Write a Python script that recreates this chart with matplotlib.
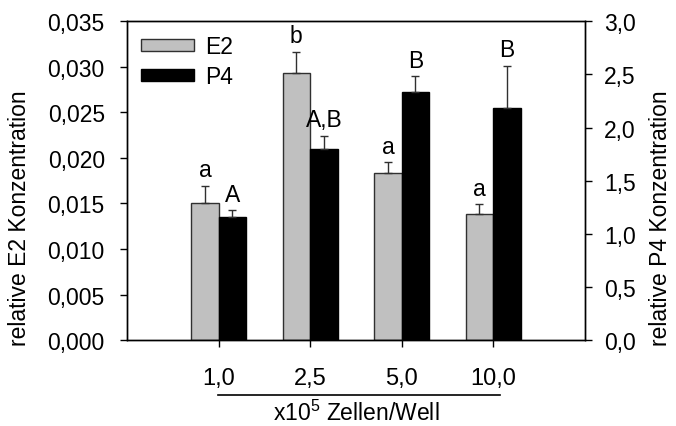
import numpy as np
import matplotlib.pyplot as plt
from matplotlib.patches import Patch

plt.rcParams['font.family'] = ['Liberation Sans', 'DejaVu Sans']
plt.rcParams['mathtext.fontset'] = 'custom'
plt.rcParams['mathtext.rm'] = 'Liberation Sans'
plt.rcParams['mathtext.it'] = 'Liberation Sans'

# data
cells = ['1,0', '2,5', '5,0', '10,0']
e2 = [0.0151, 0.0293, 0.0183, 0.0138]
e2_err = [0.0018, 0.0023, 0.0012, 0.0011]
p4 = [1.16, 1.80, 2.33, 2.18]
p4_err = [0.06, 0.12, 0.15, 0.40]
e2_letters = ['a', 'b', 'a', 'a']
p4_letters = ['A', 'A,B', 'B', 'B']

x = np.arange(len(cells))
w = 0.3
grey = '#c0c0c0'
edge = '#303030'
fs = 16.5

fig = plt.figure(figsize=(6.76, 4.27), dpi=100)
ax = fig.add_subplot(111)
fig.subplots_adjust(left=0.188, right=0.865, top=0.948, bottom=0.201)
ax2 = ax.twinx()

ax.bar(x - w / 2, e2, w, color=grey, edgecolor=edge, linewidth=1.0, zorder=2)
ax.errorbar(x - w / 2, e2, yerr=[np.zeros(4), e2_err], fmt='none',
            ecolor=edge, elinewidth=1.0, capsize=3, capthick=1.0, zorder=3)
ax2.bar(x + w / 2, p4, w, color='black', edgecolor='black', linewidth=1.0, zorder=2)
ax2.errorbar(x + w / 2, p4, yerr=[np.zeros(4), p4_err], fmt='none',
             ecolor=edge, elinewidth=1.0, capsize=3, capthick=1.0, zorder=3)

for i in range(len(cells)):
    ax.annotate(e2_letters[i], (x[i] - w / 2, e2[i] + e2_err[i]), xytext=(0, 3.5),
                textcoords='offset points', ha='center', va='bottom', fontsize=fs)
    ax2.annotate(p4_letters[i], (x[i] + w / 2, p4[i] + p4_err[i]), xytext=(0, 3.5),
                 textcoords='offset points', ha='center', va='bottom', fontsize=fs)

ax.set_xlim(-1, 4)
ax.set_ylim(0, 0.035)
ax2.set_ylim(0, 3.0)
ax.set_yticks(np.arange(0, 0.0351, 0.005))
ax.set_yticklabels([f'{v:.3f}'.replace('.', ',') for v in np.arange(0, 0.0351, 0.005)])
ax2.set_yticks(np.arange(0, 3.01, 0.5))
ax2.set_yticklabels([f'{v:.1f}'.replace('.', ',') for v in np.arange(0, 3.01, 0.5)])
ax.set_xticks(x)
ax.set_xticklabels(cells)

ax.tick_params(axis='y', direction='out', length=5, width=1, pad=11, labelsize=fs)
ax2.tick_params(axis='y', direction='out', length=5, width=1, pad=9, labelsize=fs)
ax.tick_params(axis='x', direction='out', length=5, width=1, pad=14, labelsize=17)
for a in (ax, ax2):
    for s in a.spines.values():
        s.set_linewidth(1.0)

fig.text(0.029, 0.49, 'relative E2 Konzentration', rotation=90,
         ha='center', va='center', fontsize=fs)
fig.text(0.977, 0.49, 'relative P4 Konzentration', rotation=90,
         ha='center', va='center', fontsize=fs)

# line under the tick labels and the axis title
ax.plot([-0.01, 3.07], [-0.172, -0.172], color='black', lw=1.2,
        transform=ax.get_xaxis_transform(), clip_on=False)
ax.text(1.5, -0.226, 'x10$^5$ Zellen/Well', transform=ax.get_xaxis_transform(),
        ha='center', va='center', fontsize=fs)

handles = [Patch(facecolor=grey, edgecolor=edge, linewidth=1.0),
           Patch(facecolor='black', edgecolor='black')]
ax.legend(handles, ['E2', 'P4'], loc='upper left', frameon=False, fontsize=fs,
          handlelength=2.3, handleheight=0.45, handletextpad=0.5,
          labelspacing=0.3, borderaxespad=0.2, bbox_to_anchor=(0.0, 1.0))

fig.savefig('out.png', dpi=100)
